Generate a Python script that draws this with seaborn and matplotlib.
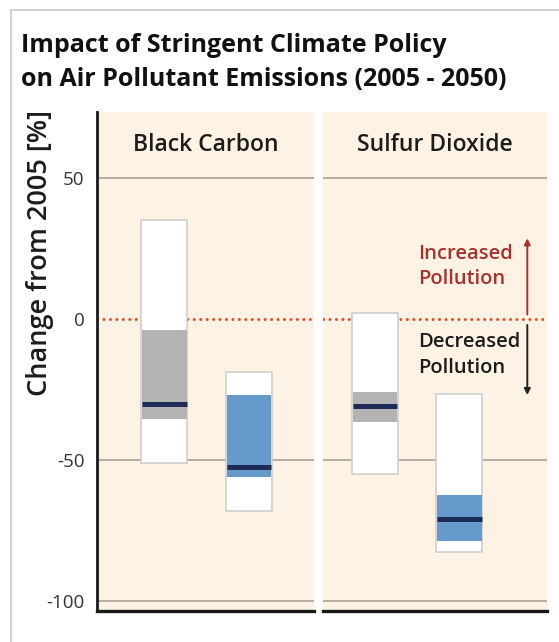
import numpy as np
import pandas as pd
import seaborn as sns
import matplotlib.pyplot as plt
from matplotlib.patches import Rectangle

# values (% change 2005 -> 2050)
pollutants = ["Black Carbon", "Sulfur Dioxide"]
scenarios = ["Baseline", "Stringent policy"]
range_high = [[35.0, -19.0], [2.0, -26.5]]
range_low = [[-51.0, -68.0], [-55.0, -82.5]]
iqr_high = [[-4.0, -27.0], [-26.0, -62.5]]
iqr_low = [[-35.5, -56.0], [-36.5, -78.5]]
medians = [[-30.0, -52.5], [-31.0, -71.0]]
yticks = [50, 0, -50, -100]

rows = []
for i, p in enumerate(pollutants):
    for j, s in enumerate(scenarios):
        rows.append(dict(pollutant=p, scenario=s, pos=j,
                         hi=range_high[i][j], lo=range_low[i][j],
                         q_hi=iqr_high[i][j], q_lo=iqr_low[i][j],
                         med=medians[i][j]))
df = pd.DataFrame(rows)

sns.set_style("white")
plt.rcParams['font.family'] = ['Open Sans', 'DejaVu Sans']

bg = "#FDF2E4"
grid_c = "#A39B91"
fills = {"Baseline": "#B3B3B3", "Stringent policy": "#6699CC"}
med_c = "#1E2B57"
zero_c = "#E0502A"
txt_c = "#1c1c1c"

fig = plt.figure(figsize=(5.59, 6.42), dpi=100)
# card frame
fig.patches.append(Rectangle((11 / 559, -0.1), 1.2, 1 - 10 / 642 + 0.1,
                             transform=fig.transFigure, fill=False,
                             edgecolor="#CFCFCF", linewidth=1.4))

ylim = (-103.3, 73.1)
ax1 = fig.add_axes([97 / 559, 0.049, 217 / 559, 0.776])
ax2 = fig.add_axes([323 / 559, 0.049, 224 / 559, 0.776])
xlims = [(-0.80, 1.776), (-0.62, 2.04)]
bw = 0.545

for ax, p, xl in zip([ax1, ax2], pollutants, xlims):
    ax.set_facecolor(bg)
    sub = df[df.pollutant == p]
    for y in [50, -50, -100]:
        ax.axhline(y, color=grid_c, lw=1.1, zorder=1)
    ax.axhline(0, color=zero_c, lw=2.2, linestyle=(0, (0.01, 2.1)),
               dash_capstyle="round", zorder=1)
    ax.bar(sub.pos, sub.hi - sub.lo, bottom=sub.lo, width=bw,
           color="white", edgecolor="#CFCFCF", linewidth=1.2, zorder=2)
    ax.bar(sub.pos, sub.q_hi - sub.q_lo, bottom=sub.q_lo, width=bw - 0.02,
           color=[fills[s] for s in sub.scenario], linewidth=0, zorder=3)
    ax.hlines(sub.med, sub.pos - (bw - 0.02) / 2, sub.pos + (bw - 0.02) / 2,
              color=med_c, lw=3.6, zorder=4)
    ax.set_xlim(*xl)
    ax.set_ylim(*ylim)
    ax.set_xticks([])
    ax.text(0.5, 61.5, p, transform=ax.get_yaxis_transform(), ha="center",
            va="center", fontsize=16.5, fontweight="semibold", color=txt_c)
    for sp in ["top", "right", "left"]:
        ax.spines[sp].set_visible(False)
    ax.spines["bottom"].set_color("#1a1a1a")
    ax.spines["bottom"].set_linewidth(2.4)

ax1.spines["left"].set_visible(True)
ax1.spines["left"].set_color("#1a1a1a")
ax1.spines["left"].set_linewidth(2.0)
ax1.set_yticks(yticks)
ax1.set_yticklabels([str(t) for t in yticks], fontsize=13.5, color="#333333")
ax1.tick_params(axis="y", length=0, pad=9)
ax2.set_yticks([])

# annotations
ax2.text(0.51, 18.5, "Increased\nPollution", color="#A8322D", fontsize=14.5,
         fontweight="semibold", va="center", ha="left", linespacing=1.38)
ax2.text(0.51, -12.7, "Decreased\nPollution", color=txt_c, fontsize=14.5,
         fontweight="semibold", va="center", ha="left", linespacing=1.38)
ax2.annotate("", xy=(1.806, 28.5), xytext=(1.806, 1.5),
             arrowprops=dict(arrowstyle="-|>", color="#A8322D", lw=1.4,
                             mutation_scale=9, shrinkA=0, shrinkB=0))
ax2.annotate("", xy=(1.806, -27.0), xytext=(1.806, -2.2),
             arrowprops=dict(arrowstyle="-|>", color="#222222", lw=1.4,
                             mutation_scale=9, shrinkA=0, shrinkB=0))

fig.text(40 / 559, 1 - 253 / 642, "Change from 2005 [%]", rotation=90,
         ha="center", va="center", fontsize=19.5, fontweight="semibold",
         color=txt_c)
fig.text(21 / 559, 1 - 46 / 642, "Impact of Stringent Climate Policy",
         ha="left", va="center", fontsize=18, fontweight="bold",
         color="#111111")
fig.text(21 / 559, 1 - 80 / 642, "on Air Pollutant Emissions (2005 - 2050)",
         ha="left", va="center", fontsize=18, fontweight="bold",
         color="#111111")

fig.savefig("out.png", dpi=100)
